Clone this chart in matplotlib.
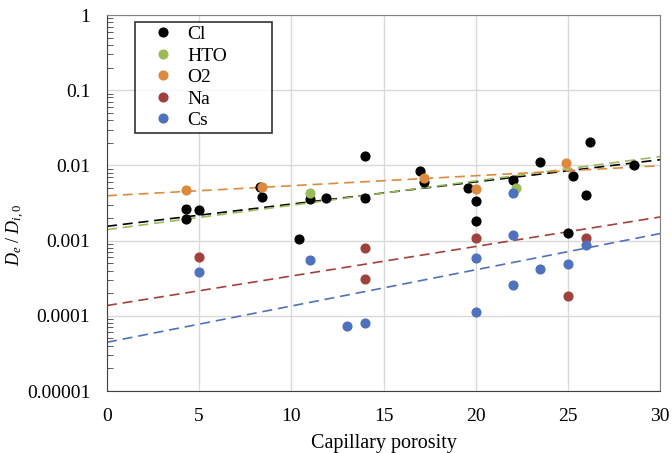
import numpy as np
import matplotlib
matplotlib.use("Agg")
import matplotlib.pyplot as plt
from matplotlib.ticker import FixedLocator, LogLocator, NullFormatter, FuncFormatter

plt.rcParams["font.family"] = ["Liberation Serif", "DejaVu Serif"]
plt.rcParams["mathtext.fontset"] = "custom"
plt.rcParams["mathtext.it"] = "Liberation Serif:italic"
plt.rcParams["mathtext.rm"] = "Liberation Serif"

# Measured De/Di,0 against capillary porosity (%)
cl_x = [4.3, 4.3, 5.0, 8.3, 8.4, 10.4, 11.0, 11.9, 14.0, 14.0, 17.0, 17.2,
        19.6, 20.0, 20.0, 22.0, 23.5, 25.0, 25.3, 26.0, 26.2, 28.6]
cl_y = [0.00263, 0.00194, 0.00252, 0.0051, 0.00383, 0.00106, 0.0036, 0.00367,
        0.0134, 0.00367, 0.0083, 0.0061, 0.00499, 0.00339, 0.00185, 0.00644,
        0.0112, 0.00125, 0.00713, 0.00407, 0.0202, 0.0100]
hto_x = [11.0, 22.2]
hto_y = [0.00428, 0.00499]
o2_x = [4.3, 8.4, 17.2, 20.0, 24.9]
o2_y = [0.00464, 0.0051, 0.0069, 0.00484, 0.0109]
na_x = [5.0, 14.0, 14.0, 20.0, 25.0, 26.0]
na_y = [0.000598, 0.000797, 0.000312, 0.00107, 0.000185, 0.00108]
cs_x = [5.0, 11.0, 13.0, 14.0, 20.0, 20.0, 22.0, 22.0, 22.0, 23.5, 25.0, 26.0]
cs_y = [0.000379, 0.000546, 7.26e-5, 7.96e-5, 0.00058, 0.000113, 0.00428,
        0.00118, 0.000257, 0.000424, 0.000489, 0.000863]

# Exponential trend lines, values at porosity 0 and 30
trend_x = [0, 30]
cl_trend = [0.00155, 0.0119]
hto_trend = [0.0014, 0.0131]
o2_trend = [0.00395, 0.0099]
na_trend = [0.000137, 0.00206]
cs_trend = [4.45e-5, 0.00124]

series = [
    ("Cl", cl_x, cl_y, cl_trend, "#000000"),
    ("HTO", hto_x, hto_y, hto_trend, "#9BBB59"),
    ("O2", o2_x, o2_y, o2_trend, "#DD8A3E"),
    ("Na", na_x, na_y, na_trend, "#A0413E"),
    ("Cs", cs_x, cs_y, cs_trend, "#4F72BE"),
]

fig = plt.figure(figsize=(6.72, 4.53), dpi=100)
ax = fig.add_axes([107 / 672, 1 - 391 / 453, 553 / 672, 376 / 453])

for name, xs, ys, tr, col in series:
    ax.plot(xs, ys, "o", color=col, markersize=6.3, label=name, zorder=3)
for name, xs, ys, tr, col in series:
    ax.plot(trend_x, tr, color=col, linestyle=(0, (6, 3.5)), linewidth=1.2, zorder=2)

ax.set_yscale("log")
ax.set_xlim(0, 30)
ax.set_ylim(1e-5, 1)
ax.xaxis.set_major_locator(FixedLocator([0, 5, 10, 15, 20, 25, 30]))
ax.yaxis.set_major_locator(LogLocator(base=10, numticks=10))
ax.yaxis.set_minor_locator(LogLocator(base=10, subs=np.arange(2, 10), numticks=20))
ax.yaxis.set_minor_formatter(NullFormatter())
ax.yaxis.set_major_formatter(FuncFormatter(lambda v, p: f"{v:.5f}".rstrip("0").rstrip(".") if v < 1 else "1"))

ax.grid(True, which="major", color="#D9D9D9", linewidth=1.0, zorder=0)
ax.set_axisbelow(True)
ax.tick_params(axis="both", which="major", length=0, labelsize=14)
ax.tick_params(axis="y", which="major", pad=12)
ax.tick_params(axis="x", which="major", pad=12)
ax.tick_params(axis="y", which="minor", direction="in", length=4, color="#404040")
for side in ["left", "bottom"]:
    ax.spines[side].set_color("#404040")
for side in ["top", "right"]:
    ax.spines[side].set_color("#808080")

ax.set_xlabel("Capillary porosity", fontsize=14.5)
ax.xaxis.set_label_coords(0.5, -0.115)
ax.set_ylabel(r"$D_e\ /\ D_{i,0}$", fontsize=13)
ax.yaxis.set_label_coords(-0.145, 0.415)

leg = ax.legend(loc="upper left", bbox_to_anchor=(0.0506, 0.982, 0.248, 0.0),
                mode="expand", fontsize=14, frameon=True, fancybox=False,
                handletextpad=0.0, borderpad=0.2, labelspacing=0.2,
                handlelength=2.47, borderaxespad=0)
leg.get_frame().set_edgecolor("black")
leg.get_frame().set_linewidth(1.2)

fig.savefig("out.png", dpi=100)
